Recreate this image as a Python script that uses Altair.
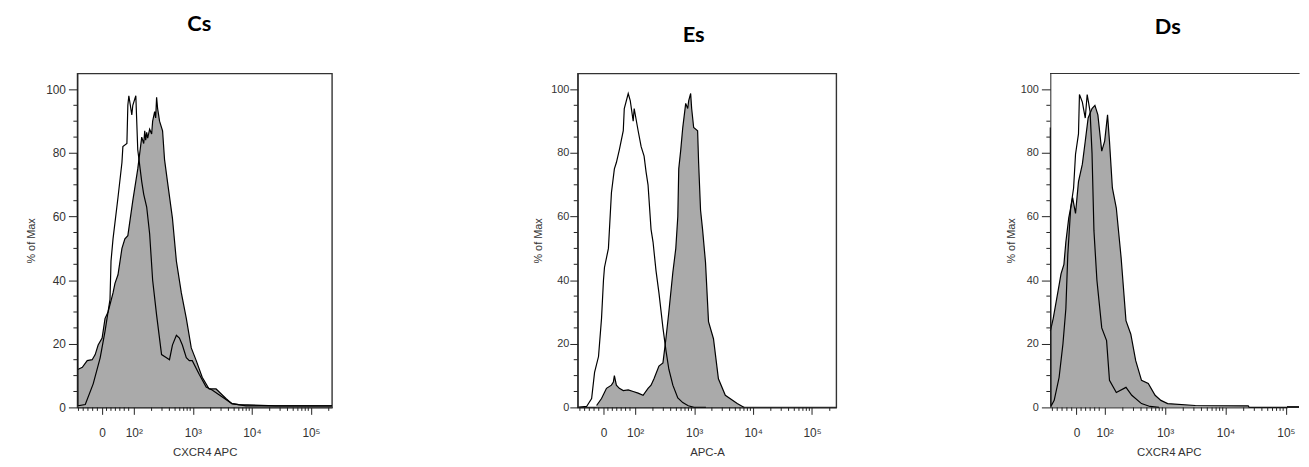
import math
import altair as alt
import pandas as pd

# ---------------- data (x in display units: 2 = 10^2, 3 = 10^3 ...; y = % of Max) -------------
CS_STAIN_U = [1.044, 1.060, 1.128, 1.211, 1.295, 1.346, 1.396, 1.463, 1.513, 1.564, 1.648, 1.681,
              1.732, 1.799, 1.849, 1.899, 1.983, 2.067, 2.134, 2.168, 2.185, 2.201, 2.218, 2.235,
              2.268, 2.302, 2.319, 2.353, 2.370, 2.386, 2.403, 2.420, 2.436, 2.487, 2.520, 2.570,
              2.654, 2.721, 2.805, 2.889, 2.973, 3.057, 3.158, 3.275, 3.393, 3.477, 3.560, 3.661,
              3.779, 4.400, 5.356]
CS_STAIN_PCT = [12, 12, 12.6, 14.7, 15, 16.6, 19.6, 21.8, 28, 30, 36, 39,
                41.7, 50, 53, 54, 65, 75, 85, 83, 87, 84, 86.5, 84.7,
                87.5, 86, 90, 93, 91, 97.5, 94, 92, 90, 87, 78, 71,
                59.5, 46, 36, 28, 18.7, 14.7, 9.5, 5.8, 5.8, 4.3, 2.8, 1.2,
                0.9, 0.5, 0.5]
CS_CTRL_U = [1.044, 1.052, 1.178, 1.312, 1.430, 1.513, 1.597, 1.614, 1.648, 1.732, 1.799, 1.815,
             1.883, 1.899, 1.916, 1.966, 1.983, 2.034, 2.067, 2.134, 2.168, 2.218, 2.268, 2.319,
             2.386, 2.470, 2.554, 2.604, 2.654, 2.721, 2.772, 2.822, 2.889, 2.940, 2.990, 3.107,
             3.225, 3.326, 3.443, 3.560, 3.661, 3.900, 5.356]
CS_CTRL_PCT = [80, 0.5, 0.9, 7.4, 15.6, 24, 34, 46, 53, 66, 77, 82,
               83, 95, 98, 92, 95, 98, 81, 71, 67, 63, 54.6, 40,
               29, 16.6, 15.6, 15, 19.6, 22.7, 21.8, 19.6, 15.6, 14.7, 14.7, 10.4,
               6.4, 5.5, 4, 2.5, 1.2, 0.5, 0.5]

ES_STAIN_U = [1.345, 1.429, 1.513, 1.597, 1.630, 1.647, 1.681, 1.731, 1.798, 1.882, 1.966, 2.050,
              2.134, 2.218, 2.269, 2.319, 2.403, 2.471, 2.521, 2.571, 2.639, 2.689, 2.723, 2.739,
              2.773, 2.807, 2.857, 2.891, 2.908, 2.941, 2.958, 2.992, 3.059, 3.076, 3.109, 3.143,
              3.193, 3.244, 3.328, 3.412, 3.529, 3.731, 3.850]
ES_STAIN_PCT = [0.6, 2.8, 6, 7, 8, 10, 7, 6, 5.3, 5.5, 5, 4.5,
                3.8, 6, 7, 9, 13, 14, 21.6, 30, 42.5, 50, 60, 75,
                81, 88, 95.6, 94, 96.5, 98.7, 94, 88, 87, 77, 62, 56,
                45.6, 27, 21.6, 9, 3.8, 1.2, 0]
ES_CTRL_U = [1.025, 1.176, 1.261, 1.311, 1.378, 1.429, 1.462, 1.479, 1.546, 1.597, 1.647, 1.681,
             1.731, 1.798, 1.815, 1.882, 1.916, 1.966, 1.983, 2.050, 2.101, 2.151, 2.185, 2.218,
             2.269, 2.303, 2.353, 2.403, 2.471, 2.521, 2.571, 2.639, 2.723, 2.807, 2.900, 3.000,
             3.200]
ES_CTRL_PCT = [0, 0.3, 2.8, 11, 16, 28, 40, 44, 50, 67.5, 75, 77,
               81, 87, 94, 98.7, 96.5, 90, 94, 87, 82, 79, 74, 70,
               56, 52, 43, 36, 25, 18, 12, 7, 3, 1.5, 0.5, 0,
               0]

DS_STAIN_U = [1.101, 1.149, 1.230, 1.278, 1.326, 1.358, 1.406, 1.470, 1.518, 1.567, 1.631, 1.679,
              1.727, 1.791, 1.839, 1.888, 1.952, 2.000, 2.048, 2.080, 2.128, 2.193, 2.273, 2.353,
              2.433, 2.514, 2.610, 2.722, 2.835, 2.931, 3.043, 3.500, 4.376, 4.390, 5.020]
DS_STAIN_PCT = [24, 28, 36.7, 42, 45, 52, 59.6, 66, 61, 71, 76.5, 83.7,
                91, 94, 95, 92, 80.6, 83.7, 92, 83.7, 69, 62.7, 47, 27.3,
                23, 14.7, 8.5, 7.5, 3.8, 2.2, 1.2, 0.6, 0.5, 0, 0]
DS_CTRL_U = [1.101, 1.110, 1.165, 1.246, 1.310, 1.358, 1.390, 1.438, 1.486, 1.518, 1.567, 1.583,
             1.631, 1.679, 1.711, 1.759, 1.791, 1.823, 1.872, 1.952, 2.032, 2.080, 2.193, 2.353,
             2.449, 2.610, 2.750, 2.900]
DS_CTRL_PCT = [88, 0.3, 2.2, 9.4, 20, 31, 48, 62.7, 69, 79.6, 86, 98.4,
               96, 91, 98.4, 93, 80, 55.5, 40, 25, 21, 8.5, 4.7, 6.3,
               3.8, 1.2, 0.3, 0]

PANEL_TITLES = ["Cs", "Es", "Ds"]
X_TITLES = ["CXCR4 APC", "APC-A", "CXCR4 APC"]
Y_TITLE = "% of Max"
MAJOR_LABELS = ["0", "10²", "10³", "10⁴", "10⁵"]
ZERO_POS = [1.463, 1.462, 1.535]
X_DOMAINS = [(1.044, 5.356), (1.025, 5.412), (1.101, 5.02)]
Y_MAJOR = [0, 20, 40, 60, 80, 100]
Y_MINOR = [5, 10, 15, 25, 30, 35, 45, 50, 55, 65, 70, 75, 85, 90, 95]
LINEAR_MINOR_OFFSETS = [-0.40, -0.32, -0.24, -0.16, -0.08, 0.075, 0.15, 0.225, 0.30, 0.375, 0.45]

for a, b in [(CS_STAIN_U, CS_STAIN_PCT), (CS_CTRL_U, CS_CTRL_PCT), (ES_STAIN_U, ES_STAIN_PCT),
             (ES_CTRL_U, ES_CTRL_PCT), (DS_STAIN_U, DS_STAIN_PCT), (DS_CTRL_U, DS_CTRL_PCT)]:
    assert len(a) == len(b)

HEIGHT = 337
FONT = "Liberation Sans"
INK = "#222222"


def panel(i, stain_u, stain_p, ctrl_u, ctrl_p, width, ylab_size, ytick, ylab_pad, ytitle_pad,
          title_dx, title_offset, framed):
    lo, hi = X_DOMAINS[i]
    majors = [ZERO_POS[i], 2, 3, 4, 5]
    label_expr = " : ".join(
        f"abs(datum.value - {v}) < 0.001 ? '{lab}'" for v, lab in zip(majors, MAJOR_LABELS)
    ) + " : ''"
    minors = [ZERO_POS[i] + o for o in LINEAR_MINOR_OFFSETS]
    minors = [m for m in minors if lo <= m < 1.95]
    for d in (2, 3, 4, 5):
        for k in range(2, 10):
            m = d + math.log10(k)
            if lo <= m <= hi:
                minors.append(m)

    xscale = alt.Scale(domain=[lo, hi], nice=False, zero=False)
    yscale = alt.Scale(domain=[0, 105], nice=False, zero=False)
    xaxis = alt.Axis(values=majors, labelExpr=label_expr, tickSize=7, tickColor=INK,
                     domainColor=INK, labelFont=FONT, labelFontSize=12, labelColor="#333333",
                     labelPadding=13, labelFlush=False, labelOverlap=False, grid=False,
                     title=X_TITLES[i], titleFont=FONT, titleFontSize=11.5,
                     titleFontWeight="normal", titleColor="#333333", titlePadding=9, zindex=1)
    yaxis = alt.Axis(values=Y_MAJOR, tickSize=ytick, tickColor=INK, domainColor=INK,
                     labelFont=FONT, labelFontSize=ylab_size, labelColor="#333333",
                     labelPadding=ylab_pad, labelFlush=False, grid=False, title=Y_TITLE,
                     titleFont=FONT, titleFontSize=11, titleFontWeight="normal",
                     titleColor="#333333", titlePadding=ytitle_pad, zindex=1)
    X = alt.X("u:Q", scale=xscale, axis=xaxis)
    Y = alt.Y("pct:Q", scale=yscale, axis=yaxis)

    stain = pd.DataFrame({"u": stain_u, "pct": stain_p})
    ctrl = pd.DataFrame({"u": ctrl_u, "pct": ctrl_p})

    area = alt.Chart(stain).mark_area(color="#aaaaaa", interpolate="linear").encode(x=X, y=Y)
    outline = alt.Chart(stain).mark_line(color="black", strokeWidth=1.2).encode(x=X, y=Y)
    ctrl_line = alt.Chart(ctrl).mark_line(color="black", strokeWidth=1.2).encode(x=X, y=Y)
    xminor = alt.Chart(pd.DataFrame({"u": minors})).mark_rule(
        color=INK, strokeWidth=1).encode(x=X, y=alt.value(HEIGHT), y2=alt.value(HEIGHT + 3.5))
    yminor = alt.Chart(pd.DataFrame({"pct": Y_MINOR})).mark_rule(
        color=INK, strokeWidth=1).encode(y=Y, x=alt.value(0), x2=alt.value(-4))

    layers = [area, outline, ctrl_line, xminor, yminor]
    if framed:
        view = alt.ViewBackground(stroke="#333333", strokeWidth=1.4, fill="white")
    else:
        view = alt.ViewBackground(stroke="transparent", fill="white")
        top = alt.Chart(stain).mark_rule(color="#333333", strokeWidth=1.2).encode(
            x=alt.value(0), x2=alt.value(width + 12), y=alt.value(0))
        bottom = alt.Chart(stain).mark_rule(color=INK, strokeWidth=1.2).encode(
            x=alt.value(width), x2=alt.value(width + 12), y=alt.value(HEIGHT))
        layers += [top, bottom]

    title = alt.TitleParams(text=PANEL_TITLES[i], font="Lato", fontSize=22, fontWeight="bold",
                            color="black", anchor="middle", frame="group", dx=title_dx,
                            offset=title_offset, baseline="alphabetic")
    return alt.layer(*layers).properties(width=width, height=HEIGHT, title=title, view=view)


cs = panel(0, CS_STAIN_U, CS_STAIN_PCT, CS_CTRL_U, CS_CTRL_PCT, 257, 12, 9, 3, 9, -5.5, 21, True)
es = panel(1, ES_STAIN_U, ES_STAIN_PCT, ES_CTRL_U, ES_CTRL_PCT, 261, 11, 8, 1, 7, -13.5, 10, True)
ds = panel(2, DS_STAIN_U, DS_STAIN_PCT, DS_CTRL_U, DS_CTRL_PCT, 239, 11, 9, 3, 4, -1, 17, False)

chart = alt.hconcat(alt.hconcat(cs, es, spacing=197), ds, spacing=169).properties(
    padding={"left": 17, "top": 2, "right": 0, "bottom": 0},
    background="white",
)

chart.save("out.html", embed_options={"renderer": "svg", "actions": False})
